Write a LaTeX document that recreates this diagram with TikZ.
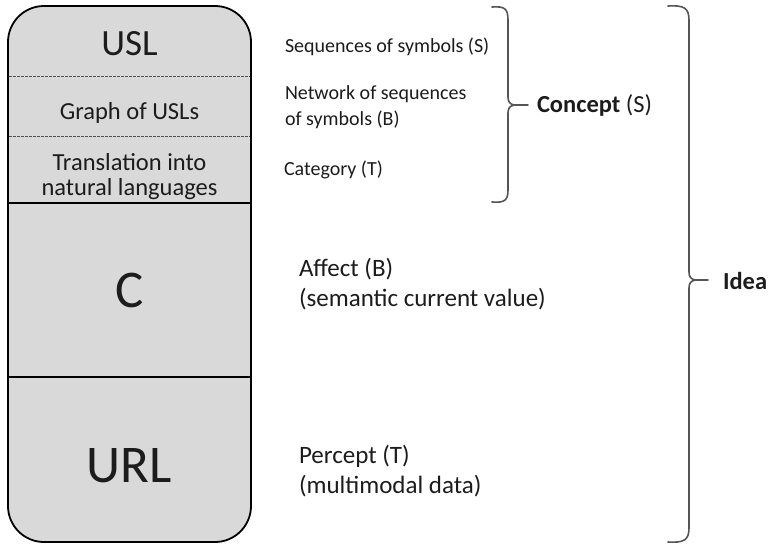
\documentclass[tikz,border=0pt]{standalone}
\usepackage{fontspec}
\setmainfont{Carlito}
\begin{document}
\begin{tikzpicture}[x=1pt,y=-1pt,
  every node/.style={inner sep=0pt,outer sep=0pt,text=ink},
  boxtext/.style={anchor=base},
  sidetext/.style={anchor=base west},
  sep dashed/.style={draw=sepgray,line width=1pt,dash pattern=on 2.5pt off 1.5pt},
  sep solid/.style={draw=black,line width=1.8pt},
  bracket/.style={draw=bracegray,line width=1.6pt,line join=round,line cap=round}]
\definecolor{ink}{RGB}{28,28,28}
\definecolor{boxfill}{RGB}{217,217,217}
\definecolor{sepgray}{RGB}{80,80,80}
\definecolor{bracegray}{RGB}{85,85,85}

\useasboundingbox (0,0) rectangle (769,547);

% the stacked column of layers
\draw[fill=boxfill,draw=black,line width=1.8pt,rounded corners=36pt]
  (8,6) rectangle (251,542);
\draw[sep dashed] (9,76) -- (250,76);
\draw[sep dashed] (9,136) -- (250,136);
\draw[sep solid] (9,203) -- (250,203);
\draw[sep solid] (9,377) -- (250,377);

\node[boxtext,font=\fontsize{37}{40}\selectfont] (usl) at (129.5,55) {USL};
\node[boxtext,font=\fontsize{24.5}{25}\selectfont] (graph) at (129.5,119) {Graph of USLs};
\node[boxtext,font=\fontsize{24.5}{25}\selectfont] (trans1) at (129.5,170) {Translation into};
\node[boxtext,font=\fontsize{24.5}{25}\selectfont] (trans2) at (129.5,195) {natural languages};
\node[boxtext,font=\fontsize{53}{56}\selectfont] (c) at (129.5,307) {C};
\node[boxtext,font=\fontsize{53}{56}\selectfont] (url) at (129.5,482) {URL};

% descriptions beside the layers
\node[sidetext,font=\fontsize{20}{24}\selectfont] (seq) at (285,52) {Sequences of symbols (S)};
\node[sidetext,font=\fontsize{20}{24}\selectfont] (net1) at (285,99) {Network of sequences};
\node[sidetext,font=\fontsize{20}{24}\selectfont] (net2) at (285,125) {of symbols (B)};
\node[sidetext,font=\fontsize{20}{24}\selectfont] (cat) at (284,175) {Category (T)};
\node[sidetext,font=\fontsize{25}{30}\selectfont] (aff1) at (299,276) {Affect (B)};
\node[sidetext,font=\fontsize{25}{30}\selectfont] (aff2) at (299,306) {(semantic current value)};
\node[sidetext,font=\fontsize{25}{30}\selectfont] (per1) at (299,463) {Percept (T)};
\node[sidetext,font=\fontsize{25}{30}\selectfont] (per2) at (299,493) {(multimodal data)};

% bracket grouping the symbolic layers
\draw[bracket] (492,7) .. controls (505,6) and (508,9) .. (508,20)
  -- (508,97) .. controls (508,102) and (510,104) .. (514,105)
  .. controls (510,106) and (508,108) .. (508,113)
  -- (508,190) .. controls (508,200) and (505,203) .. (492,202);
\coordinate (ctip) at (514,105);
\coordinate (cend) at (528,105);
\draw[bracket] (ctip) -- (cend);
\node[sidetext,font=\fontsize{24.5}{28}\selectfont] (concept) at (537,112)
  {\textbf{Concept} (S)};

% bracket grouping the whole column
\draw[bracket] (668,6) .. controls (684,5) and (689,8) .. (689,20)
  -- (689,272) .. controls (689,277) and (691,279) .. (695,280)
  .. controls (691,281) and (689,283) .. (689,288)
  -- (689,528) .. controls (689,540) and (684,543) .. (668,542);
\coordinate (itip) at (695,280);
\coordinate (iend) at (708,280);
\draw[bracket] (itip) -- (iend);
\node[sidetext,font=\fontsize{24.5}{28}\selectfont\bfseries] (idea) at (723,289) {Idea};
\end{tikzpicture}
\end{document}
